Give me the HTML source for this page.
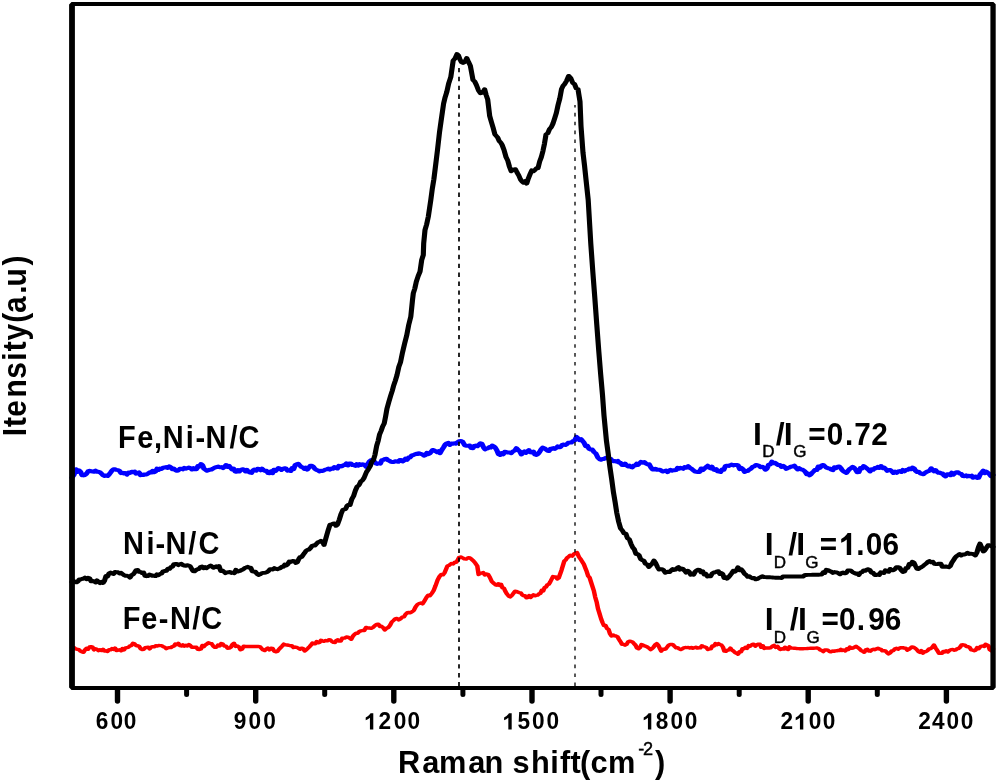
<!DOCTYPE html>
<html><head><meta charset="utf-8"><style>
html,body{margin:0;padding:0;background:#fff;}
svg{display:block;will-change:transform;}
text{font-family:"Liberation Sans",sans-serif;font-weight:bold;fill:#000;}
.lab{font-size:31.5px;}
</style></head><body>
<svg width="997" height="780" viewBox="0 0 997 780">
<rect width="997" height="780" fill="#fff"/>


<g transform="scale(1.32,1)" fill="none" stroke-linejoin="round" stroke-linecap="round">
<polyline points="54.55,647.8 55.93,647.5 57.32,648.9 58.71,649.3 59.85,649.7 60.98,651.1 62.12,651.9 63.26,652.3 64.41,649.7 65.57,648.2 66.72,649.3 67.88,647.0 69.00,646.7 70.12,647.1 71.24,649.9 72.36,648.8 73.48,649.3 74.62,650.6 75.76,649.7 76.89,650.5 78.03,649.3 79.17,651.0 80.30,650.8 81.44,651.4 82.58,649.8 83.71,649.9 84.85,648.6 85.98,649.5 87.12,648.0 88.26,650.5 89.39,650.3 90.53,649.8 91.67,650.8 92.80,648.5 93.94,650.0 95.08,647.9 96.21,647.7 97.35,647.2 98.48,645.8 99.62,645.5 100.76,643.3 101.94,643.8 103.13,645.7 104.32,645.6 105.45,646.4 106.59,648.8 107.73,649.5 108.86,649.3 110.00,647.6 111.14,647.3 112.27,647.1 113.41,648.9 114.55,647.0 115.69,646.6 116.84,646.9 117.99,645.7 119.14,646.1 120.29,645.5 121.44,645.6 122.58,645.6 123.71,646.7 124.85,647.2 125.98,648.6 127.12,647.8 128.26,647.6 129.39,647.6 130.53,646.6 131.67,646.2 132.80,644.0 133.94,644.7 135.08,643.3 136.21,645.6 137.35,646.0 138.48,644.8 139.64,646.2 140.79,645.3 141.94,645.9 143.09,644.6 144.24,645.6 145.38,647.3 146.52,647.3 147.65,647.2 148.79,647.3 149.92,649.3 151.06,649.5 152.20,649.0 153.33,645.4 154.47,646.6 155.61,644.8 156.77,644.0 157.93,642.8 159.09,643.3 160.30,643.7 161.52,646.1 162.73,647.4 163.94,647.3 165.15,645.1 166.36,646.0 167.58,643.5 168.79,644.1 170.03,646.1 171.26,646.3 172.50,648.2 173.69,648.1 174.89,647.2 176.08,644.5 177.27,643.3 178.50,646.4 179.73,646.0 180.97,646.9 182.20,649.8 183.41,649.0 184.62,646.2 185.83,646.5 186.92,646.5 188.01,646.5 189.09,646.5 190.18,646.5 191.26,646.5 192.35,646.5 193.43,646.5 194.52,646.5 195.61,646.5 196.82,646.6 198.03,648.3 199.24,649.9 200.45,650.6 201.67,649.0 202.88,648.0 204.09,649.9 205.30,648.2 206.52,648.4 207.73,651.2 208.94,651.8 210.15,651.4 211.36,649.2 212.58,647.6 213.79,646.0 215.00,644.1 216.23,644.9 217.45,645.0 218.68,645.2 219.91,645.7 221.14,645.7 222.35,647.6 223.56,647.0 224.77,647.4 225.98,648.2 227.20,649.2 228.41,648.1 229.62,648.6 230.83,650.9 232.05,649.8 233.23,648.3 234.42,646.7 235.61,645.0 236.69,643.0 237.77,643.7 238.84,643.7 239.92,641.6 241.00,642.8 242.08,642.4 243.16,640.2 244.24,641.0 245.45,641.2 246.67,640.5 247.88,640.9 249.09,639.8 250.30,640.0 251.46,641.5 252.63,642.4 253.79,642.5 254.87,640.4 255.95,639.8 257.03,641.0 258.11,641.1 259.19,638.3 260.27,638.2 261.34,638.0 262.42,637.0 263.64,637.2 264.85,638.1 266.06,639.3 267.27,636.3 268.48,634.5 269.71,633.3 270.94,633.2 272.17,631.5 273.39,630.9 274.62,630.5 275.96,630.5 277.30,627.4 278.64,628.0 279.95,628.0 281.26,628.3 282.58,627.4 283.91,625.7 285.25,624.4 286.59,624.1 287.82,626.5 289.05,626.3 290.28,627.6 291.52,630.0 292.83,628.3 294.14,627.5 295.45,625.4 296.77,622.0 298.08,620.5 299.39,618.9 300.71,618.4 302.02,619.9 303.33,618.9 304.65,617.2 305.96,616.9 307.27,614.3 308.48,612.7 309.70,612.5 310.91,612.8 312.12,611.7 313.48,610.5 314.85,606.8 316.21,604.5 317.53,603.5 318.84,603.0 320.15,603.9 321.63,600.7 323.11,597.4 324.42,595.2 325.73,595.7 327.05,593.5 328.52,590.6 330.00,585.6 331.48,580.1 332.95,576.5 334.27,574.5 335.58,574.8 336.89,572.6 338.94,566.0 340.42,565.2 341.89,563.5 343.21,564.0 344.52,562.2 345.83,562.2 347.73,557.6 349.07,556.9 350.40,557.8 351.74,558.9 353.22,559.1 354.70,557.6 356.01,558.0 357.32,559.3 358.64,560.9 360.11,563.2 361.59,566.0 362.58,574.5 363.74,573.6 364.90,573.0 366.06,572.6 367.31,575.0 368.56,573.9 369.81,574.6 371.06,577.2 372.65,581.7 374.24,583.5 375.30,584.8 376.36,585.2 377.42,583.7 378.48,585.4 379.55,584.2 380.63,587.8 381.72,588.1 382.80,591.3 384.04,593.9 385.28,596.0 386.52,596.9 387.75,595.5 388.99,593.2 390.23,591.3 391.29,591.4 392.35,592.2 393.41,592.6 394.47,592.8 395.53,594.8 396.61,595.8 397.69,595.6 398.77,597.8 399.85,597.6 400.91,595.5 401.97,597.4 403.03,596.1 404.09,594.8 405.15,595.8 406.21,595.4 407.27,595.2 408.33,593.9 409.39,593.4 410.45,590.3 411.52,590.9 412.58,587.6 413.64,587.0 414.70,584.7 415.76,584.2 416.82,582.0 418.94,576.5 420.02,576.9 421.10,577.0 422.18,578.9 423.26,578.0 425.38,570.2 427.50,561.0 428.56,560.0 429.62,557.8 430.68,556.9 432.07,555.2 433.46,556.1 434.85,554.0 435.98,553.2 437.12,552.6 438.64,557.0 440.15,559.7 441.24,562.0 442.32,564.3 443.41,568.0 444.49,571.6 445.57,576.0 446.65,577.5 447.73,582.0 449.85,590.6 450.91,597.1 451.97,601.8 453.07,608.9 454.17,613.5 455.30,618.5 456.44,622.5 457.58,625.6 458.71,625.4 459.85,628.5 460.98,629.3 462.12,633.7 463.26,636.0 464.41,634.9 465.57,635.8 466.72,636.0 467.88,636.9 468.99,639.5 470.10,641.7 471.21,644.4 472.37,644.3 473.54,645.2 474.70,644.4 475.81,641.9 476.92,641.1 478.03,641.4 479.17,642.0 480.30,643.6 481.44,645.1 482.58,648.1 483.71,648.7 484.85,647.6 485.98,644.5 487.12,645.0 488.29,645.9 489.45,646.3 490.62,647.2 491.79,648.2 492.95,649.6 494.09,648.5 495.23,646.9 496.36,644.7 497.50,643.6 498.64,645.2 499.77,648.2 500.91,651.2 502.05,649.1 503.18,649.4 504.32,648.9 505.45,647.0 506.59,645.1 507.73,644.4 508.86,644.4 510.00,644.9 511.14,646.5 512.27,647.9 513.41,647.6 514.55,648.9 515.69,649.6 516.84,648.8 517.99,647.9 519.14,647.5 520.29,647.6 521.44,647.4 522.58,648.1 523.71,647.4 524.85,648.3 525.98,647.7 527.12,647.2 528.26,648.1 529.39,647.8 530.53,647.9 531.67,645.7 532.80,646.6 533.94,646.9 535.08,647.5 536.21,649.5 537.35,648.9 538.50,648.9 539.66,645.9 540.81,646.1 541.97,643.6 543.11,644.8 544.24,643.6 545.38,644.5 546.52,645.0 547.65,647.0 548.79,651.2 549.92,651.4 551.06,650.1 552.20,650.0 553.33,648.1 554.48,650.2 555.64,651.0 556.79,652.5 557.94,653.2 559.09,654.2 560.23,651.7 561.36,651.8 562.50,648.7 563.64,648.9 564.81,647.2 565.98,648.4 567.16,645.6 568.33,646.3 569.62,644.7 570.91,644.2 572.20,646.2 573.48,644.6 574.57,644.2 575.66,644.3 576.74,647.3 577.83,645.7 578.91,648.5 580.00,648.0 581.27,648.0 582.55,648.0 583.82,647.8 585.09,646.2 586.36,645.4 587.68,647.4 588.99,646.3 590.30,648.8 591.42,649.5 592.54,648.6 593.66,649.1 594.77,647.2 595.89,649.0 597.01,649.5 598.12,646.8 599.24,648.0 600.37,648.1 601.49,648.2 602.62,648.3 603.74,648.5 604.87,648.6 606.00,648.7 607.12,648.8 608.28,648.7 609.44,648.6 610.60,648.6 611.76,648.5 612.92,648.4 614.08,648.3 615.23,648.2 616.39,648.2 617.55,648.1 618.71,648.0 620.00,648.3 621.29,649.9 622.58,650.5 623.71,651.6 624.85,650.0 625.98,649.9 627.12,650.2 628.26,651.4 629.39,651.9 630.53,651.0 631.67,651.4 632.74,650.9 633.81,650.8 634.89,650.5 635.96,650.6 637.03,649.4 638.11,650.5 639.26,650.0 640.41,651.0 641.57,648.8 642.72,649.4 643.87,647.1 645.03,648.3 646.18,648.0 647.33,647.3 648.48,646.3 649.77,647.6 651.06,648.8 652.35,650.6 653.64,651.4 654.78,652.3 655.93,649.8 657.07,649.3 658.22,651.0 659.36,651.2 660.51,649.7 661.65,649.2 662.79,649.7 663.94,648.8 665.08,648.3 666.23,649.0 667.37,649.3 668.52,650.9 669.66,650.6 670.81,650.8 671.95,652.6 673.10,653.9 674.24,653.0 675.51,651.0 676.77,650.7 678.03,648.7 679.19,648.2 680.34,649.2 681.50,648.1 682.65,647.6 683.83,647.6 685.00,648.1 686.17,648.1 687.35,650.2 688.50,649.4 689.66,648.3 690.81,646.9 691.97,647.1 693.26,648.2 694.55,649.6 695.83,651.7 696.92,652.5 698.02,650.6 699.11,653.2 700.20,651.6 701.29,651.7 702.53,650.7 703.77,648.9 705.02,648.7 706.26,647.3 707.50,645.0 708.79,647.9 710.08,650.5 711.36,653.3 712.45,653.4 713.55,653.3 714.64,651.4 715.73,651.9 716.82,650.7 718.06,652.0 719.30,650.4 720.55,649.6 721.79,649.5 723.03,650.2 724.11,649.8 725.18,648.6 726.26,648.5 727.33,647.1 728.41,645.0 729.70,644.8 730.98,645.1 732.27,646.6 733.45,646.8 734.62,647.5 735.80,649.9 736.97,650.2 738.06,650.7 739.15,650.2 740.24,647.6 741.33,648.8 742.42,647.1 743.48,646.1 744.55,646.0 745.61,646.5 746.67,644.2 747.73,645.0 748.79,645.7 749.85,649.8 750.91,650.7 752.27,649.0" stroke="#ff0000" stroke-width="3.4"/>
<polyline points="54.55,477.6 56.06,474.8 57.58,469.3 58.71,471.9 59.85,470.4 60.98,471.7 62.12,475.2 63.26,475.4 64.41,475.0 65.57,473.6 66.72,471.4 67.88,470.8 69.00,471.3 70.13,471.5 71.26,471.7 72.38,470.6 73.51,471.7 74.63,471.8 75.76,472.3 76.91,473.7 78.06,475.3 79.21,475.9 80.36,475.4 81.52,476.0 82.64,474.5 83.76,472.6 84.88,470.6 86.00,469.2 87.12,469.3 88.26,469.9 89.39,470.1 90.53,470.9 91.67,473.1 92.80,472.7 93.94,473.5 95.08,473.1 96.21,474.6 97.38,472.6 98.55,472.9 99.71,471.7 100.88,472.2 102.05,471.6 103.15,473.7 104.26,473.3 105.36,472.4 106.47,475.2 107.58,474.6 108.74,475.0 109.91,474.4 111.08,474.4 112.24,473.5 113.41,472.3 114.52,472.6 115.64,470.8 116.75,472.2 117.87,471.6 118.98,468.6 120.10,469.9 121.21,468.6 122.39,468.9 123.56,467.7 124.73,467.5 125.91,467.0 127.08,468.0 128.26,466.3 129.39,467.2 130.53,469.1 131.67,468.6 132.80,470.0 133.94,470.8 135.08,470.5 136.21,468.8 137.35,468.7 138.48,469.4 139.62,467.8 140.78,468.7 141.94,468.2 143.10,467.6 144.25,468.1 145.41,469.5 146.57,468.1 147.73,469.3 148.86,469.2 150.00,466.0 151.14,466.6 152.27,464.0 153.41,465.1 154.55,468.8 155.68,469.7 156.82,470.8 157.94,470.2 159.06,469.7 160.18,469.5 161.30,468.7 162.42,467.8 163.84,467.1 165.25,466.6 166.67,467.3 167.80,467.1 168.94,468.1 170.08,466.9 171.21,465.0 172.35,467.0 173.48,465.8 174.62,467.7 175.76,469.4 176.89,468.5 178.03,471.3 179.17,471.8 180.30,470.0 181.44,471.4 182.58,469.8 183.71,469.2 184.85,469.6 185.98,471.5 187.12,469.9 188.26,471.9 189.39,472.6 190.55,472.9 191.70,470.3 192.85,469.5 194.00,470.7 195.15,468.8 196.27,469.0 197.39,470.3 198.52,468.7 199.64,470.1 200.76,471.0 201.92,470.8 203.08,473.1 204.24,473.3 205.36,471.3 206.48,473.2 207.61,469.7 208.73,471.0 209.85,469.6 210.98,468.0 212.12,468.5 213.26,469.9 214.39,468.8 215.56,468.2 216.73,468.7 217.89,470.7 219.06,470.2 220.23,471.0 221.36,468.0 222.50,469.1 223.64,464.9 224.77,464.3 225.91,463.7 227.05,465.3 228.18,466.9 229.32,467.3 230.48,468.8 231.64,467.7 232.80,469.6 233.94,467.8 235.08,465.7 236.21,465.8 237.35,466.8 238.48,468.8 239.62,469.9 240.76,470.3 241.89,471.4 243.03,470.8 244.17,471.0 245.30,470.4 246.44,469.6 247.58,469.4 248.71,468.5 249.85,469.6 250.98,468.4 252.12,468.8 253.27,467.1 254.42,467.7 255.58,468.5 256.73,465.8 257.88,466.5 259.02,466.3 260.15,465.2 261.29,465.0 262.42,463.4 263.56,465.4 264.70,463.5 265.83,463.4 266.97,465.0 268.11,465.0 269.24,465.8 270.30,464.2 271.36,465.6 272.42,464.1 273.48,465.0 274.82,464.3 276.16,464.9 277.50,467.0 278.76,463.7 280.03,461.2 281.29,460.1 282.42,461.1 283.56,461.4 284.70,463.4 285.83,463.9 286.97,463.2 288.14,463.6 289.32,460.2 290.49,459.8 291.67,458.9 292.79,458.7 293.91,460.2 295.04,460.8 296.16,461.9 297.29,462.1 298.41,462.0 299.51,461.2 300.61,461.6 301.70,461.8 302.80,460.1 303.90,460.1 305.00,461.4 306.12,460.4 307.24,458.7 308.36,459.8 309.48,457.6 310.61,457.6 311.74,455.7 312.88,455.2 314.02,454.6 315.15,453.8 316.29,454.0 317.42,453.2 318.69,453.9 319.95,454.3 321.21,455.7 322.31,455.2 323.41,452.9 324.51,454.1 325.61,453.3 326.70,451.6 327.80,450.0 328.91,450.4 330.02,451.3 331.12,452.2 332.23,451.2 333.33,453.2 334.67,450.0 336.01,447.4 337.35,444.4 338.48,443.3 339.62,442.9 340.76,444.9 341.89,443.5 343.03,443.8 344.20,443.2 345.38,443.8 346.55,442.3 347.73,441.3 349.17,441.0 350.61,442.0 352.05,445.3 353.48,445.7 354.66,445.9 355.83,445.5 357.01,448.1 358.18,448.2 359.33,446.0 360.48,445.6 361.64,446.2 362.79,444.7 363.94,443.2 365.10,443.8 366.26,447.2 367.42,449.4 368.54,448.6 369.65,448.3 370.76,447.0 371.87,447.6 372.98,445.5 374.09,446.3 375.27,447.8 376.44,450.3 377.61,454.1 378.79,455.0 379.98,453.0 381.17,454.3 382.37,451.8 383.56,452.0 384.82,452.6 386.09,452.5 387.35,453.2 388.64,451.4 389.92,450.6 391.21,448.2 392.47,450.0 393.74,451.3 395.00,454.5 396.14,452.5 397.27,451.4 398.41,452.9 399.55,451.3 400.68,450.0 401.82,452.4 402.95,452.6 404.09,451.6 405.23,454.5 406.36,455.0 407.56,454.0 408.75,452.0 409.94,449.4 411.14,447.6 412.40,448.2 413.66,449.5 414.92,450.7 416.01,451.0 417.09,448.7 418.17,448.9 419.25,448.1 420.34,448.9 421.42,447.8 422.50,446.3 423.65,447.3 424.80,446.8 425.95,444.9 427.11,444.5 428.26,445.0 429.39,444.2 430.53,442.8 431.67,442.6 432.80,442.6 433.94,441.3 435.34,440.4 436.74,436.9 437.88,438.3 439.02,440.1 440.15,439.1 441.29,441.0 442.42,442.6 443.69,446.2 444.95,445.7 446.21,448.8 447.47,449.6 448.74,449.6 450.00,452.0 451.48,453.6 452.95,457.6 454.11,459.1 455.27,459.7 456.42,459.0 457.58,458.9 459.02,457.7 460.45,458.7 461.53,458.6 462.61,458.9 463.69,460.6 464.76,461.2 465.84,460.9 466.92,461.6 468.00,460.9 469.07,462.6 470.15,463.0 471.28,464.9 472.40,464.9 473.53,463.5 474.65,465.3 475.78,466.5 476.90,465.7 478.03,467.0 479.11,467.4 480.19,465.4 481.28,465.4 482.36,463.7 483.44,464.8 484.52,463.4 485.61,461.8 486.86,462.7 488.11,462.0 489.36,463.6 490.61,464.4 491.82,464.3 493.03,467.2 494.24,469.4 495.45,469.5 496.59,468.7 497.73,469.8 498.86,469.8 500.00,469.7 501.14,470.8 502.27,471.6 503.41,471.0 504.55,470.5 505.68,472.1 506.82,470.8 507.90,469.9 508.98,470.8 510.06,470.2 511.14,470.2 512.22,470.1 513.31,467.9 514.39,468.7 515.47,467.7 516.55,468.2 517.63,468.8 518.71,467.0 520.05,467.7 521.39,466.2 522.73,468.0 523.94,468.7 525.15,470.2 526.36,471.5 527.58,471.7 528.79,472.0 530.01,471.9 531.24,468.5 532.46,470.2 533.69,468.5 534.91,467.1 536.14,465.7 537.21,467.6 538.29,468.3 539.37,466.6 540.45,469.4 541.52,470.0 542.60,469.0 543.68,471.3 544.76,471.6 545.83,472.0 547.06,469.5 548.30,469.8 549.53,466.2 550.76,465.7 551.96,465.9 553.16,465.2 554.36,464.6 555.56,465.4 556.76,464.9 557.95,464.9 559.18,465.4 560.41,469.1 561.64,467.9 562.86,469.1 564.09,472.0 565.30,470.9 566.52,471.0 567.73,469.4 568.94,468.7 570.15,466.9 571.36,466.4 572.58,464.9 573.79,465.2 575.00,465.8 576.21,467.3 577.42,466.7 578.64,467.6 579.85,469.7 581.08,468.5 582.31,464.7 583.54,464.5 584.77,461.7 585.98,463.2 587.20,462.7 588.41,464.1 589.62,465.1 590.83,464.9 592.05,467.0 593.26,465.8 594.47,466.9 595.68,468.9 596.89,467.9 598.11,467.6 599.32,466.5 600.53,466.5 601.76,465.6 602.98,467.7 604.20,469.5 605.43,468.2 606.65,469.3 607.88,469.7 608.97,470.5 610.06,471.8 611.15,474.2 612.24,473.6 613.33,475.3 614.39,474.3 615.45,472.5 616.52,471.2 617.58,469.7 618.79,470.0 620.00,466.5 621.21,467.8 622.42,465.3 623.64,464.9 624.85,466.3 626.06,467.7 627.27,468.2 628.48,468.4 629.70,469.7 630.92,470.1 632.15,467.2 633.38,468.2 634.61,466.8 635.83,466.5 636.91,467.9 637.98,470.2 639.06,471.3 640.14,472.1 641.21,473.0 642.39,470.9 643.56,469.1 644.73,468.2 645.91,466.8 647.10,467.8 648.28,469.8 649.47,472.3 650.66,472.1 651.86,468.0 653.05,468.5 654.24,466.0 655.45,467.0 656.67,468.3 657.88,469.6 659.09,471.5 660.28,469.4 661.47,469.8 662.66,468.1 663.85,468.2 665.04,466.9 666.23,468.0 667.42,466.0 668.61,468.1 669.79,467.6 670.98,469.0 672.16,470.8 673.34,469.9 674.53,470.0 675.71,471.3 676.89,473.0 678.08,471.7 679.26,472.8 680.45,471.5 681.63,471.1 682.81,472.0 684.00,469.9 685.18,471.3 686.36,470.0 687.58,469.8 688.79,468.5 690.00,469.2 691.21,467.6 692.41,468.2 693.61,470.8 694.81,472.0 696.01,471.8 697.21,473.4 698.41,473.9 699.60,474.3 700.78,472.8 701.97,471.9 703.16,471.3 704.34,470.5 705.53,468.3 706.60,469.8 707.67,471.3 708.74,470.0 709.81,471.8 710.88,472.8 711.94,472.6 713.01,473.5 714.08,473.6 715.15,475.4 716.34,476.4 717.53,474.3 718.72,474.3 719.91,475.2 721.10,472.7 722.29,474.7 723.48,473.0 724.68,472.2 725.87,472.3 727.06,473.6 728.25,473.9 729.44,476.0 730.63,476.2 731.82,475.4 732.88,476.5 733.94,475.7 735.00,476.3 736.06,475.7 737.12,477.7 738.18,476.7 739.24,476.6 740.30,477.9 741.36,477.8 742.55,474.4 743.74,472.5 744.92,470.7 746.09,473.1 747.26,471.7 748.42,472.9 749.59,474.2 750.76,476.2 752.27,475.0" stroke="#0000ff" stroke-width="4.0"/>
<polyline points="54.55,582.0 55.68,580.9 56.82,582.0 57.90,582.4 58.98,581.5 60.06,579.4 61.15,579.5 62.23,578.7 63.31,578.7 64.39,577.6 65.55,579.1 66.70,577.7 67.85,578.2 69.00,581.3 70.15,581.0 71.28,581.1 72.40,582.4 73.53,580.4 74.65,582.0 75.78,583.1 76.90,581.9 78.03,583.0 79.17,580.8 80.30,576.0 81.44,576.5 82.58,573.3 83.71,572.6 84.85,573.5 85.98,574.0 87.12,572.0 88.26,572.2 89.39,572.3 90.53,573.4 91.67,572.8 92.80,574.0 93.94,575.2 95.08,575.9 96.21,575.7 97.35,576.2 98.48,577.6 99.65,575.2 100.82,574.4 101.98,572.4 103.15,570.1 104.32,570.0 105.43,571.9 106.55,571.9 107.66,573.0 108.78,572.5 109.89,575.8 111.01,576.2 112.12,576.0 113.26,574.6 114.39,575.0 115.53,575.9 116.67,575.6 117.80,576.1 118.94,574.3 120.08,575.2 121.21,574.0 122.42,573.4 123.64,571.3 124.85,571.0 126.06,570.8 127.27,568.6 128.41,568.9 129.55,567.1 130.68,566.6 131.82,564.1 132.95,564.0 134.09,564.0 135.19,565.1 136.28,564.2 137.37,563.7 138.47,565.0 139.56,565.7 140.66,565.9 141.75,565.2 142.85,565.6 143.94,566.0 145.08,568.5 146.21,571.0 147.35,571.3 148.48,570.1 149.62,569.2 150.76,569.0 151.89,567.1 153.03,566.6 154.17,568.1 155.30,567.0 156.36,568.3 157.42,567.1 158.48,566.4 159.55,565.6 160.61,566.5 161.67,567.8 162.73,567.1 163.79,566.3 164.85,567.2 165.91,566.0 167.27,571.0 168.43,570.5 169.59,571.6 170.75,573.2 171.90,572.4 173.06,572.3 174.22,572.0 175.38,573.0 176.49,572.6 177.61,573.2 178.73,569.8 179.84,571.6 180.96,571.1 182.07,570.8 183.19,569.8 184.30,569.4 185.42,568.0 186.54,567.5 187.65,566.8 188.82,567.7 189.99,567.8 191.16,571.4 192.33,571.7 193.50,571.8 194.66,573.8 195.83,575.0 196.92,574.4 198.00,573.5 199.08,572.9 200.17,572.9 201.25,572.6 202.33,572.0 203.42,571.0 204.50,569.2 205.58,569.2 206.67,569.5 207.80,568.1 208.94,568.9 210.08,569.2 211.21,568.6 212.35,568.1 213.48,566.8 214.62,566.9 215.76,564.5 216.89,565.4 218.03,564.1 219.17,561.5 220.30,562.0 221.62,560.9 222.93,561.2 224.24,563.0 225.30,562.2 226.36,559.0 227.42,557.0 228.48,557.0 229.55,555.0 230.68,553.1 231.82,550.9 232.95,549.8 234.09,549.5 235.23,548.0 236.36,546.0 237.50,545.3 238.64,545.5 239.77,543.7 240.91,542.3 242.05,541.7 243.18,540.8 244.32,541.5 245.45,545.0 247.50,535.4 248.75,529.7 250.00,524.6 251.14,524.4 252.27,523.7 253.41,523.4 254.55,525.8 255.68,524.6 257.02,519.8 258.36,514.0 259.70,510.0 260.79,509.3 261.88,509.0 262.97,505.6 264.06,504.6 265.15,505.0 266.52,499.1 267.88,496.0 269.24,490.5 270.61,486.5 271.97,485.1 273.33,481.5 274.55,480.3 275.76,478.0 277.65,472.0 279.05,469.3 280.45,466.3 281.64,461.7 282.83,460.3 284.02,455.1 285.38,445.8 286.44,441.1 287.50,434.7 288.69,431.0 289.87,426.4 291.06,423.5 292.12,416.5 293.18,408.6 294.58,401.8 295.98,395.6 297.15,390.9 298.31,385.2 299.47,380.8 300.78,375.0 302.10,367.1 303.41,362.2 304.96,352.3 306.52,343.6 308.07,335.7 309.62,325.0 311.21,316.7 312.50,300.0 313.11,293.3 314.24,288.6 315.38,281.7 316.78,276.1 318.18,271.7 319.47,260.0 320.68,255.0 320.98,243.3 321.97,230.0 323.22,224.4 324.47,216.7 326.36,200.0 327.53,188.4 328.69,179.3 329.85,167.0 331.40,150.4 332.95,132.3 334.51,117.7 336.06,103.6 337.23,97.2 338.41,92.3 339.96,83.2 341.52,77.0 343.33,60.5 344.77,58.4 346.21,54.0 347.35,55.4 348.48,59.5 349.62,62.2 350.76,63.0 352.20,61.9 353.64,58.0 354.96,62.0 356.29,65.6 358.33,80.0 359.62,81.5 360.91,85.0 362.46,90.3 364.02,93.3 365.57,92.7 367.12,89.2 368.30,95.0 369.47,99.5 370.98,116.0 372.30,122.2 373.61,127.9 374.92,134.4 376.00,136.0 377.08,137.6 378.15,141.0 379.23,142.4 380.30,144.6 381.82,149.9 383.33,157.0 384.67,160.6 386.01,167.0 387.35,171.3 388.90,169.6 390.45,169.2 391.74,172.6 393.03,175.5 394.32,179.5 395.49,181.6 396.67,182.7 397.84,181.1 399.02,183.6 400.30,178.3 401.59,174.2 402.88,170.3 404.05,171.2 405.23,170.1 406.40,168.2 407.58,168.2 408.84,161.5 410.10,157.1 411.36,150.8 412.50,143.6 413.64,134.4 414.97,133.3 416.31,129.1 417.65,127.2 418.94,123.5 420.23,118.2 421.52,112.8 422.80,104.9 424.09,98.5 425.38,89.2 426.55,85.9 427.73,84.1 429.28,80.7 430.83,75.9 432.39,78.2 433.94,83.0 435.25,84.1 436.57,88.4 437.88,89.2 439.39,101.5 440.15,126.0 441.67,152.8 442.80,165.3 443.94,179.5 445.61,200.0 447.58,243.8 449.09,271.5 450.61,297.6 452.12,324.8 453.64,351.4 455.04,374.2 456.44,395.0 457.58,415.6 459.47,441.3 460.76,453.8 462.05,467.0 463.41,479.3 464.77,492.6 466.02,502.2 467.27,513.0 468.71,521.9 470.15,528.5 471.46,530.5 472.78,533.3 474.09,533.6 475.40,538.2 476.72,539.3 478.03,543.8 479.29,547.4 480.56,549.4 481.82,554.0 482.98,553.9 484.15,555.3 485.32,559.0 486.48,560.1 487.65,560.5 488.94,563.7 490.23,564.4 491.52,567.0 492.83,565.2 494.14,563.5 495.45,560.5 496.72,563.1 497.98,566.7 499.24,569.5 500.42,569.2 501.61,569.2 502.79,570.3 503.97,572.7 505.15,572.0 506.26,571.6 507.36,572.1 508.46,570.2 509.57,569.0 510.67,570.0 511.77,569.6 512.88,568.0 514.05,567.1 515.21,569.6 516.38,568.5 517.55,569.1 518.71,570.8 519.85,572.6 520.98,570.7 522.12,571.9 523.26,574.8 524.39,573.7 525.53,574.6 526.62,571.8 527.70,570.4 528.79,569.8 529.98,569.9 531.17,572.3 532.36,571.3 533.55,574.6 534.74,573.9 535.93,576.5 537.12,576.0 538.33,576.3 539.55,573.5 540.76,572.5 541.97,572.3 543.18,571.4 544.26,571.2 545.35,573.9 546.43,573.1 547.51,574.0 548.59,578.0 549.68,577.0 550.76,578.6 551.95,577.3 553.14,575.2 554.33,573.2 555.52,570.8 556.71,571.8 557.90,570.3 559.09,567.3 560.34,570.3 561.59,569.4 562.84,571.3 564.09,573.8 565.30,575.0 566.52,576.8 567.73,576.3 568.94,577.6 570.15,578.3 571.36,577.9 572.58,579.4 573.79,579.0 575.00,577.9 576.21,577.2 577.42,576.2 578.64,577.0 579.75,577.1 580.87,577.2 581.99,577.2 583.11,577.3 584.22,577.4 585.34,577.5 586.46,577.6 587.58,577.7 588.69,577.8 589.81,577.8 590.93,577.9 592.05,578.0 593.18,576.5 594.26,576.5 595.35,576.5 596.43,576.5 597.51,576.5 598.59,576.5 599.68,576.5 600.76,576.5 601.84,576.5 602.92,576.5 604.00,576.5 605.09,576.5 606.17,576.5 607.25,576.5 608.33,576.5 609.85,575.0 610.99,575.0 612.13,574.9 613.28,574.9 614.42,574.9 615.56,574.8 616.71,574.8 617.85,574.7 618.99,574.7 620.14,574.7 621.28,574.6 622.42,574.6 623.64,572.3 624.85,572.9 626.06,569.8 627.29,570.1 628.52,571.1 629.74,571.6 630.97,572.9 632.20,572.0 633.59,572.4 634.97,573.0 636.36,574.3 637.55,573.1 638.74,572.5 639.92,573.4 641.11,572.9 642.30,570.5 643.48,570.4 644.68,570.7 645.88,572.1 647.08,572.9 648.28,573.8 649.48,573.5 650.68,575.0 651.88,572.5 653.08,572.1 654.27,570.5 655.47,570.8 656.67,569.6 657.85,569.2 659.04,570.1 660.23,572.7 661.41,572.6 662.60,575.0 663.79,575.0 664.96,574.4 666.13,574.9 667.29,572.2 668.46,572.7 669.63,573.0 670.80,570.3 671.97,571.0 673.16,571.8 674.35,568.9 675.54,570.2 676.73,570.3 677.92,569.3 679.11,567.2 680.30,567.2 681.57,567.6 682.83,570.4 684.09,572.0 685.28,571.5 686.46,567.9 687.65,568.0 688.84,564.1 690.03,564.6 691.21,561.7 692.37,562.7 693.54,565.9 694.70,568.8 695.89,569.0 697.08,567.7 698.27,567.0 699.46,565.8 700.65,564.5 701.84,563.3 703.03,561.7 704.24,561.1 705.45,562.3 706.67,561.8 707.88,563.9 709.09,564.1 710.30,564.0 711.50,563.7 712.71,563.6 713.91,566.8 715.11,566.8 716.31,566.4 717.51,566.9 718.71,567.2 719.89,566.1 721.08,562.7 722.26,560.3 723.44,557.9 724.62,556.2 725.82,555.1 727.02,554.0 728.22,555.5 729.42,554.4 730.62,554.5 731.82,553.9 733.01,552.8 734.19,554.0 735.38,553.6 736.57,553.8 737.75,554.4 738.94,555.4 740.10,552.5 741.26,547.2 742.42,543.6 743.67,547.3 744.92,551.5 746.12,550.3 747.31,547.6 748.50,545.3 749.70,545.2 750.98,546.2 752.27,547.0" stroke="#000" stroke-width="3.9"/>
</g>
<line x1="459" y1="688" x2="459" y2="67" stroke="#000" stroke-width="1.7" stroke-dasharray="4.4 4.5" stroke-dashoffset="7.3"/>
<line x1="575" y1="688" x2="575" y2="105" stroke="#000" stroke-width="1.3" stroke-dasharray="3.6 5.3" stroke-dashoffset="6.9"/>
<path fill="#000" fill-rule="evenodd" d="M69.1,4.4 L71.5,2 L993.4,2 L995.7,4.3 L995.7,687.6 L993.3,690 L71.5,690 L69.1,687.6 Z M74.9,6 L74.9,686 L990.4,686 L990.4,6 Z"/>
<line x1="117.5" y1="689" x2="117.5" y2="701" stroke="#000" stroke-width="5.4" stroke-linecap="round"/>
<line x1="255.7" y1="689" x2="255.7" y2="701" stroke="#000" stroke-width="5.4" stroke-linecap="round"/>
<line x1="393.8" y1="689" x2="393.8" y2="701" stroke="#000" stroke-width="5.4" stroke-linecap="round"/>
<line x1="532.0" y1="689" x2="532.0" y2="701" stroke="#000" stroke-width="5.4" stroke-linecap="round"/>
<line x1="670.1" y1="689" x2="670.1" y2="701" stroke="#000" stroke-width="5.4" stroke-linecap="round"/>
<line x1="808.2" y1="689" x2="808.2" y2="701" stroke="#000" stroke-width="5.4" stroke-linecap="round"/>
<line x1="946.4" y1="689" x2="946.4" y2="701" stroke="#000" stroke-width="5.4" stroke-linecap="round"/>
<line x1="186.6" y1="689" x2="186.6" y2="694.5" stroke="#000" stroke-width="5" stroke-linecap="round"/>
<line x1="324.7" y1="689" x2="324.7" y2="694.5" stroke="#000" stroke-width="5" stroke-linecap="round"/>
<line x1="462.9" y1="689" x2="462.9" y2="694.5" stroke="#000" stroke-width="5" stroke-linecap="round"/>
<line x1="601.0" y1="689" x2="601.0" y2="694.5" stroke="#000" stroke-width="5" stroke-linecap="round"/>
<line x1="739.2" y1="689" x2="739.2" y2="694.5" stroke="#000" stroke-width="5" stroke-linecap="round"/>
<line x1="877.3" y1="689" x2="877.3" y2="694.5" stroke="#000" stroke-width="5" stroke-linecap="round"/>

<text transform="translate(95.67,729.40) scale(0.96,1)" style="font-size:23.6px;font-weight:bold">6</text><text transform="translate(110.40,729.40) scale(0.96,1)" style="font-size:23.6px;font-weight:bold">0</text><text transform="translate(123.70,729.40) scale(0.96,1)" style="font-size:23.6px;font-weight:bold">0</text>
<text transform="translate(233.71,729.40) scale(0.96,1)" style="font-size:23.6px;font-weight:bold">9</text><text transform="translate(248.40,729.40) scale(0.96,1)" style="font-size:23.6px;font-weight:bold">0</text><text transform="translate(263.20,729.40) scale(0.96,1)" style="font-size:23.6px;font-weight:bold">0</text>
<path transform="translate(365.70,729.40) scale(22.656,23.6)" d="M0,-0.385 L0,-0.505 Q0.12,-0.56 0.183,-0.64 Q0.2,-0.665 0.215,-0.688 L0.335,-0.688 L0.335,0 L0.187,0 L0.187,-0.49 Q0.1,-0.425 0,-0.385 Z" fill="#000"/><text transform="translate(378.61,729.40) scale(0.96,1)" style="font-size:23.6px;font-weight:bold">2</text><text transform="translate(393.70,729.40) scale(0.96,1)" style="font-size:23.6px;font-weight:bold">0</text><text transform="translate(407.40,729.40) scale(0.96,1)" style="font-size:23.6px;font-weight:bold">0</text>
<path transform="translate(504.10,729.40) scale(22.656,23.6)" d="M0,-0.385 L0,-0.505 Q0.12,-0.56 0.183,-0.64 Q0.2,-0.665 0.215,-0.688 L0.335,-0.688 L0.335,0 L0.187,0 L0.187,-0.49 Q0.1,-0.425 0,-0.385 Z" fill="#000"/><text transform="translate(517.40,729.40) scale(0.96,1)" style="font-size:23.6px;font-weight:bold">5</text><text transform="translate(532.10,729.40) scale(0.96,1)" style="font-size:23.6px;font-weight:bold">0</text><text transform="translate(546.40,729.40) scale(0.96,1)" style="font-size:23.6px;font-weight:bold">0</text>
<path transform="translate(643.70,729.40) scale(22.656,23.6)" d="M0,-0.385 L0,-0.505 Q0.12,-0.56 0.183,-0.64 Q0.2,-0.665 0.215,-0.688 L0.335,-0.688 L0.335,0 L0.187,0 L0.187,-0.49 Q0.1,-0.425 0,-0.385 Z" fill="#000"/><text transform="translate(655.78,729.40) scale(0.96,1)" style="font-size:23.6px;font-weight:bold">8</text><text transform="translate(670.50,729.40) scale(0.96,1)" style="font-size:23.6px;font-weight:bold">0</text><text transform="translate(684.80,729.40) scale(0.96,1)" style="font-size:23.6px;font-weight:bold">0</text>
<text transform="translate(780.61,729.40) scale(0.96,1)" style="font-size:23.6px;font-weight:bold">2</text><path transform="translate(795.70,729.40) scale(22.656,23.6)" d="M0,-0.385 L0,-0.505 Q0.12,-0.56 0.183,-0.64 Q0.2,-0.665 0.215,-0.688 L0.335,-0.688 L0.335,0 L0.187,0 L0.187,-0.49 Q0.1,-0.425 0,-0.385 Z" fill="#000"/><text transform="translate(808.70,729.40) scale(0.96,1)" style="font-size:23.6px;font-weight:bold">0</text><text transform="translate(822.70,729.40) scale(0.96,1)" style="font-size:23.6px;font-weight:bold">0</text>
<text transform="translate(918.21,729.40) scale(0.96,1)" style="font-size:23.6px;font-weight:bold">2</text><text transform="translate(932.06,729.40) scale(0.96,1)" style="font-size:23.6px;font-weight:bold">4</text><text transform="translate(946.40,729.40) scale(0.96,1)" style="font-size:23.6px;font-weight:bold">0</text><text transform="translate(960.70,729.40) scale(0.96,1)" style="font-size:23.6px;font-weight:bold">0</text>

<text transform="translate(117.96,447.80) scale(0.92,1)" style="font-size:31.5px;font-weight:bold">F</text><text transform="translate(137.17,447.80) scale(0.92,1)" style="font-size:31.5px;font-weight:bold">e</text><text transform="translate(154.03,447.80) scale(0.92,1)" style="font-size:31.5px;font-weight:bold">,</text><text transform="translate(162.76,447.80) scale(0.92,1)" style="font-size:31.5px;font-weight:bold">N</text><text transform="translate(185.68,447.80) scale(0.92,1)" style="font-size:31.5px;font-weight:bold">i</text><text transform="translate(195.47,447.80) scale(0.92,1)" style="font-size:31.5px;font-weight:bold">-</text><text transform="translate(205.46,447.80) scale(0.92,1)" style="font-size:31.5px;font-weight:bold">N</text><text transform="translate(229.52,447.80) scale(0.92,1)" style="font-size:31.5px;font-weight:bold">/</text><text transform="translate(238.61,447.80) scale(0.92,1)" style="font-size:31.5px;font-weight:bold">C</text>

<text transform="translate(123.06,553.70) scale(0.92,1)" style="font-size:31.5px;font-weight:bold">N</text><text transform="translate(146.38,553.70) scale(0.92,1)" style="font-size:31.5px;font-weight:bold">i</text><text transform="translate(155.57,553.70) scale(0.92,1)" style="font-size:31.5px;font-weight:bold">-</text><text transform="translate(165.46,553.70) scale(0.92,1)" style="font-size:31.5px;font-weight:bold">N</text><text transform="translate(188.22,553.70) scale(0.92,1)" style="font-size:31.5px;font-weight:bold">/</text><text transform="translate(198.61,553.70) scale(0.92,1)" style="font-size:31.5px;font-weight:bold">C</text>

<text transform="translate(122.76,628.60) scale(0.92,1)" style="font-size:31.5px;font-weight:bold">F</text><text transform="translate(141.17,628.60) scale(0.92,1)" style="font-size:31.5px;font-weight:bold">e</text><text transform="translate(158.87,628.60) scale(0.92,1)" style="font-size:31.5px;font-weight:bold">-</text><text transform="translate(170.06,628.60) scale(0.92,1)" style="font-size:31.5px;font-weight:bold">N</text><text transform="translate(192.32,628.60) scale(0.92,1)" style="font-size:31.5px;font-weight:bold">/</text><text transform="translate(201.31,628.60) scale(0.92,1)" style="font-size:31.5px;font-weight:bold">C</text>

<text x="753.06" y="445.00" style="font-size:32px;font-weight:bold">I</text><text x="762.21" y="456.70" style="font-size:17px;font-weight:normal;stroke:#000;stroke-width:0.45px">D</text><text x="775.79" y="445.00" style="font-size:32px;font-weight:bold">/</text><text x="783.86" y="445.00" style="font-size:32px;font-weight:bold">I</text><text x="793.25" y="456.70" style="font-size:17px;font-weight:normal;stroke:#000;stroke-width:0.45px">G</text><text transform="translate(808.26,445.00) scale(0.93,1)" style="font-size:32px;font-weight:bold">=</text><text transform="translate(826.82,445.00) scale(0.93,1)" style="font-size:32px;font-weight:bold">0</text><text transform="translate(844.98,445.00) scale(0.93,1)" style="font-size:32px;font-weight:bold">.</text><text transform="translate(854.22,445.00) scale(0.93,1)" style="font-size:32px;font-weight:bold">7</text><text transform="translate(871.17,445.00) scale(0.93,1)" style="font-size:32px;font-weight:bold">2</text>
<text x="764.66" y="555.10" style="font-size:32px;font-weight:bold">I</text><text x="773.81" y="568.30" style="font-size:17px;font-weight:normal;stroke:#000;stroke-width:0.45px">D</text><text x="788.19" y="555.10" style="font-size:32px;font-weight:bold">/</text><text x="796.36" y="555.10" style="font-size:32px;font-weight:bold">I</text><text x="805.25" y="568.30" style="font-size:17px;font-weight:normal;stroke:#000;stroke-width:0.45px">G</text><text transform="translate(819.66,555.10) scale(0.93,1)" style="font-size:32px;font-weight:bold">=</text><path transform="translate(841.20,555.10) scale(29.760,32)" d="M0,-0.385 L0,-0.505 Q0.12,-0.56 0.183,-0.64 Q0.2,-0.665 0.215,-0.688 L0.335,-0.688 L0.335,0 L0.187,0 L0.187,-0.49 Q0.1,-0.425 0,-0.385 Z" fill="#000"/><text transform="translate(856.28,555.10) scale(0.93,1)" style="font-size:32px;font-weight:bold">.</text><text transform="translate(865.72,555.10) scale(0.93,1)" style="font-size:32px;font-weight:bold">0</text><text transform="translate(882.51,555.10) scale(0.93,1)" style="font-size:32px;font-weight:bold">6</text>
<text x="764.66" y="630.10" style="font-size:32px;font-weight:bold">I</text><text x="773.81" y="643.30" style="font-size:17px;font-weight:normal;stroke:#000;stroke-width:0.45px">D</text><text x="789.79" y="630.10" style="font-size:32px;font-weight:bold">/</text><text x="797.96" y="630.10" style="font-size:32px;font-weight:bold">I</text><text x="806.55" y="643.30" style="font-size:17px;font-weight:normal;stroke:#000;stroke-width:0.45px">G</text><text transform="translate(821.46,630.10) scale(0.93,1)" style="font-size:32px;font-weight:bold">=</text><text transform="translate(839.12,630.10) scale(0.93,1)" style="font-size:32px;font-weight:bold">0</text><text transform="translate(856.78,630.10) scale(0.93,1)" style="font-size:32px;font-weight:bold">.</text><text transform="translate(868.17,630.10) scale(0.93,1)" style="font-size:32px;font-weight:bold">9</text><text transform="translate(884.81,630.10) scale(0.93,1)" style="font-size:32px;font-weight:bold">6</text>

<text transform="translate(397.94,772.60) scale(0.98,1)" style="font-size:31.4px;font-weight:bold">R</text><text transform="translate(422.20,772.60) scale(0.98,1)" style="font-size:31.4px;font-weight:bold">a</text><text transform="translate(438.97,772.60) scale(0.98,1)" style="font-size:31.4px;font-weight:bold">m</text><text transform="translate(468.20,772.60) scale(0.98,1)" style="font-size:31.4px;font-weight:bold">a</text><text transform="translate(484.47,772.60) scale(0.98,1)" style="font-size:31.4px;font-weight:bold">n</text><text transform="translate(512.52,772.60) scale(0.98,1)" style="font-size:31.4px;font-weight:bold">s</text><text transform="translate(530.95,772.60) scale(0.98,1)" style="font-size:31.4px;font-weight:bold">h</text><text transform="translate(550.35,772.60) scale(0.98,1)" style="font-size:31.4px;font-weight:bold">i</text><text transform="translate(559.97,772.60) scale(0.98,1)" style="font-size:31.4px;font-weight:bold">f</text><text transform="translate(570.62,772.60) scale(0.98,1)" style="font-size:31.4px;font-weight:bold">t</text><text transform="translate(580.07,772.60) scale(0.98,1)" style="font-size:31.4px;font-weight:bold">(</text><text transform="translate(590.60,772.60) scale(0.98,1)" style="font-size:31.4px;font-weight:bold">c</text><text transform="translate(608.07,772.60) scale(0.98,1)" style="font-size:31.4px;font-weight:bold">m</text><text transform="translate(638.19,755.00) scale(0.98,1)" style="font-size:18.5px;font-weight:normal;stroke:#000;stroke-width:0.45px">-</text><text transform="translate(642.99,754.70) scale(0.98,1)" style="font-size:18.5px;font-weight:normal;stroke:#000;stroke-width:0.45px">2</text><text transform="translate(655.07,772.60) scale(0.98,1)" style="font-size:31.4px;font-weight:bold">)</text>

<g transform="translate(26,436.5) rotate(-90)"><text transform="translate(0.30,0.00) scale(0.92,1)" style="font-size:32.5px;font-weight:bold">I</text><text transform="translate(9.44,0.00) scale(0.92,1)" style="font-size:32.5px;font-weight:bold">t</text><text transform="translate(19.63,0.00) scale(0.92,1)" style="font-size:32.5px;font-weight:bold">e</text><text transform="translate(38.93,0.00) scale(0.92,1)" style="font-size:32.5px;font-weight:bold">n</text><text transform="translate(57.75,0.00) scale(0.92,1)" style="font-size:32.5px;font-weight:bold">s</text><text transform="translate(75.71,0.00) scale(0.92,1)" style="font-size:32.5px;font-weight:bold">i</text><text transform="translate(85.34,0.00) scale(0.92,1)" style="font-size:32.5px;font-weight:bold">t</text><text transform="translate(95.97,0.00) scale(0.92,1)" style="font-size:32.5px;font-weight:bold">y</text><text transform="translate(113.81,0.00) scale(0.92,1)" style="font-size:32.5px;font-weight:bold">(</text><text transform="translate(123.62,0.00) scale(0.92,1)" style="font-size:32.5px;font-weight:bold">a</text><text transform="translate(142.87,0.00) scale(0.92,1)" style="font-size:32.5px;font-weight:bold">.</text><text transform="translate(150.05,0.00) scale(0.92,1)" style="font-size:32.5px;font-weight:bold">u</text><text transform="translate(170.97,0.00) scale(0.92,1)" style="font-size:32.5px;font-weight:bold">)</text>
</g>
</svg>
</body></html>
